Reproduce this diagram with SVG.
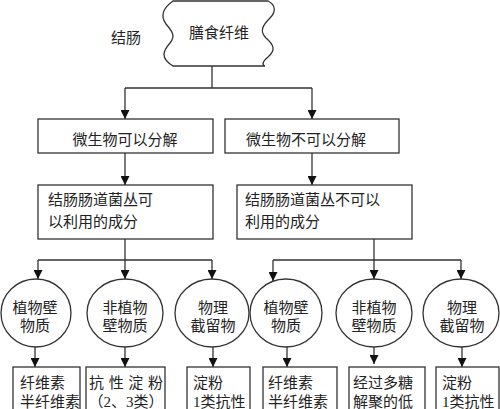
<svg xmlns="http://www.w3.org/2000/svg" width="500" height="409" viewBox="0 0 500 409">
<defs>
<marker id="ah" viewBox="0 0 10 10" refX="10" refY="5" markerWidth="9" markerHeight="9" markerUnits="userSpaceOnUse" orient="auto">
<path d="M0,0 L10,5 L0,10 Z" fill="#111"/>
</marker>
<style>
.t{font-family:"Liberation Serif","Noto Sans CJK SC",serif;font-size:15px;fill:#222}
.m{text-anchor:middle}
.s{fill:#fff;stroke:#333;stroke-width:1.3}
.c{fill:none;stroke:#333;stroke-width:1.3}
.a{marker-end:url(#ah)}
</style>
</defs>
<rect width="500" height="409" fill="#fff"/>
<g id="label-colon"><text class="t" x="111" y="43">结肠</text></g>
<g id="n-fiber">
<path class="s" d="M173,1 L268,1 C276,5 276,12 270,18 C263,25 259,31 266,38 C274,45 276,50 268,57 C262,62 262,65 265,66 L173,66 C160,58 163,51 170,43 C176,36 172,31 166,24 C160,16 163,8 173,1 Z"/>
<text class="t m" x="219" y="38">膳食纤维</text>
</g>
<g id="n-decomp">
<rect class="s" x="38" y="119" width="175" height="34"/>
<text class="t m" x="125" y="145">微生物可以分解</text>
</g>
<g id="n-nodecomp">
<rect class="s" x="225" y="119" width="174" height="34"/>
<text class="t" x="246" y="145">微生物不可以分解</text>
</g>
<g id="n-usable">
<rect class="s" x="38" y="185" width="175" height="54"/>
<text class="t" x="48" y="205">结肠肠道菌丛可</text>
<text class="t" x="48" y="227">以利用的成分</text>
</g>
<g id="n-unusable">
<rect class="s" x="237" y="185" width="175" height="54"/>
<text class="t" x="245" y="205">结肠肠道菌丛不可以</text>
<text class="t" x="245" y="227">利用的成分</text>
</g>
<g id="e1"><ellipse class="s" cx="36" cy="313" rx="35" ry="34"/><text class="t m" x="35" y="313">植物壁</text><text class="t m" x="35" y="331">物质</text></g>
<g id="e2"><ellipse class="s" cx="125" cy="313" rx="38" ry="34"/><text class="t m" x="125" y="313">非植物</text><text class="t m" x="125" y="331">壁物质</text></g>
<g id="e3"><ellipse class="s" cx="212" cy="313" rx="37" ry="34"/><text class="t m" x="213" y="313">物理</text><text class="t m" x="213" y="331">截留物</text></g>
<g id="e4"><ellipse class="s" cx="286" cy="313" rx="36" ry="34"/><text class="t m" x="286" y="313">植物壁</text><text class="t m" x="286" y="331">物质</text></g>
<g id="e5"><ellipse class="s" cx="374" cy="313" rx="38" ry="34"/><text class="t m" x="374" y="313">非植物</text><text class="t m" x="374" y="331">壁物质</text></g>
<g id="e6"><ellipse class="s" cx="461" cy="313" rx="38" ry="34"/><text class="t m" x="462" y="313">物理</text><text class="t m" x="462" y="331">截留物</text></g>
<g id="b1"><rect class="s" x="13" y="367" width="67" height="60"/><text class="t" x="20" y="388">纤维素</text><text class="t" x="20" y="407">半纤维素</text></g>
<g id="b2"><rect class="s" x="86" y="367" width="79" height="60"/><text class="t" x="89" y="388" textLength="74" lengthAdjust="spacing">抗性淀粉</text><text class="t m" x="126" y="407">（2、3类）</text></g>
<g id="b3"><rect class="s" x="187" y="367" width="63" height="60"/><text class="t" x="193" y="388">淀粉</text><text class="t" x="193" y="407">1类抗性</text></g>
<g id="b4"><rect class="s" x="263" y="367" width="74" height="60"/><text class="t" x="268" y="388">纤维素</text><text class="t" x="268" y="407">半纤维素</text></g>
<g id="b5"><rect class="s" x="349" y="367" width="76" height="60"/><text class="t" x="353" y="388">经过多糖</text><text class="t" x="353" y="407">解聚的低</text></g>
<g id="b6"><rect class="s" x="436" y="367" width="63" height="60"/><text class="t" x="442" y="388">淀粉</text><text class="t" x="442" y="407">1类抗性</text></g>
<g id="connectors">
<path class="c" d="M212,66 V88 M125,88 H312"/>
<path class="c a" d="M125,88 V119"/>
<path class="c a" d="M312,88 V119"/>
<path class="c a" d="M125,153 V185"/>
<path class="c a" d="M312,153 V185"/>
<path class="c" d="M125,239 V260 M38,260 H212"/>
<path class="c a" d="M38,260 V279"/>
<path class="c a" d="M125,260 V279"/>
<path class="c a" d="M212,260 V279"/>
<path class="c" d="M374,239 V260 M273,260 H461"/>
<path class="c a" d="M273,260 V281"/>
<path class="c a" d="M374,260 V279"/>
<path class="c a" d="M461,260 V279"/>
<path class="c a" d="M35,347 V367"/>
<path class="c a" d="M125,347 V367"/>
<path class="c a" d="M213,347 V367"/>
<path class="c a" d="M287,347 V367"/>
<path class="c a" d="M374,347 V364"/>
<path class="c a" d="M462,347 V367"/>
</g>
</svg>
